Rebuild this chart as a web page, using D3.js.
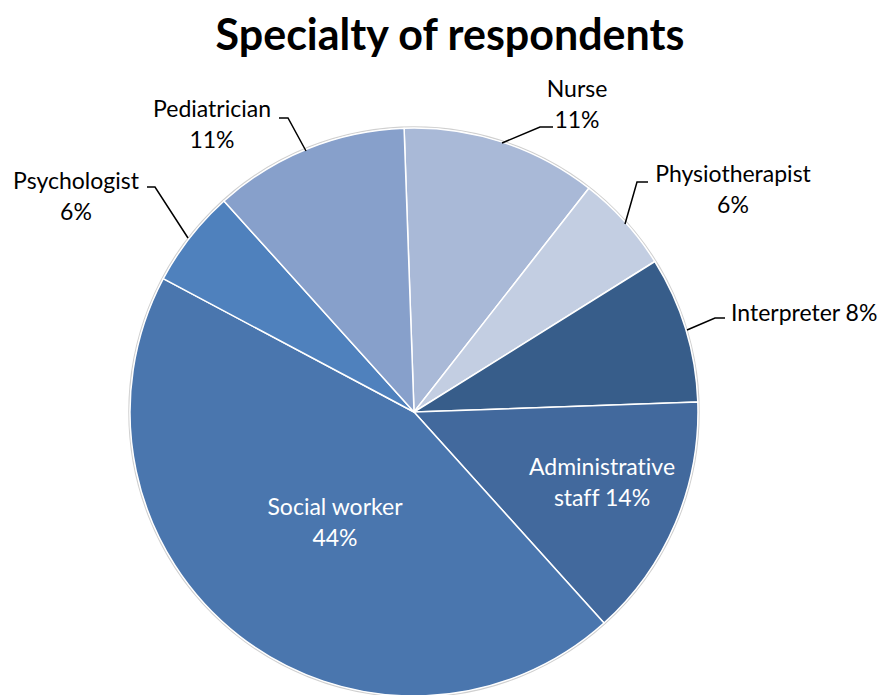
<!DOCTYPE html>
<html>
<head>
<meta charset="utf-8">
<script src="https://cdn.jsdelivr.net/npm/d3@7"></script>
<style>
  html, body { margin: 0; padding: 0; background: #fff; }
  svg { display: block; }
  text { font-family: Lato, "Open Sans", sans-serif; font-variant-ligatures: none; }
</style>
</head>
<body>
<svg id="chart" width="885" height="695"></svg>
<script>
// Respondent counts by specialty (clockwise from the top)
const specialties = ["Nurse", "Physiotherapist", "Interpreter", "Administrative staff", "Social worker", "Psychologist", "Pediatrician"];
const counts = [4, 2, 3, 5, 16, 2, 4];
const sliceColors = ["#a9b9d7", "#c3cee2", "#375d8a", "#42699d", "#4a76ae", "#4f81bd", "#87a0cb"];

// Label placement per slice: anchor point, line breaks, text colour, leader line
const labelSpecs = [
  { x: 577, y: 97, lines: ["Nurse", "{p}"], fill: "#000", leader: [[553, 127], [540, 127], [502, 143]] },
  { x: 733, y: 182, lines: ["Physiotherapist", "{p}"], fill: "#000", leader: [[648, 182], [637, 182], [625, 224]] },
  { x: 731, y: 321, lines: ["Interpreter {p}"], fill: "#000", anchor: "start", leader: [[725, 318], [715, 318], [687, 330]] },
  { x: 602, y: 475, lines: ["Administrative", "staff {p}"], fill: "#fff" },
  { x: 335, y: 515, lines: ["Social worker", "{p}"], fill: "#fff" },
  { x: 76, y: 189, lines: ["Psychologist", "{p}"], fill: "#000", leader: [[147, 187], [155, 187], [188, 238]] },
  { x: 212, y: 117, lines: ["Pediatrician", "{p}"], fill: "#000", leader: [[279, 118], [288, 118], [306, 151]] }
];

const svg = d3.select("#chart");
const cx = 414, cy = 412, radius = 284;
const total = d3.sum(counts);
const pct = d => Math.round(d / total * 100) + "%";

// Title
svg.append("text")
  .attr("x", 450).attr("y", 50)
  .attr("text-anchor", "middle")
  .style("font-size", "43px").style("font-weight", "bold")
  .text("Specialty of respondents");

const offset = -2 * Math.PI / 180;
const pie = d3.pie().sort(null).value(d => d)
  .startAngle(offset).endAngle(2 * Math.PI + offset);
const arc = d3.arc().innerRadius(0).outerRadius(radius);

const g = svg.append("g").attr("transform", `translate(${cx},${cy})`);

// Faint rim around the pie
g.append("circle").attr("r", radius + 1)
  .attr("fill", "none").attr("stroke", "#d0d0d0").attr("stroke-width", 1.5);

g.selectAll("path.slice")
  .data(pie(counts))
  .join("path")
  .attr("class", "slice")
  .attr("d", arc)
  .attr("fill", (d, i) => sliceColors[i])
  .attr("stroke", "#fff")
  .attr("stroke-width", 1.5)
  .attr("stroke-linejoin", "round");

// Leader lines
const line = d3.line();
labelSpecs.forEach(s => {
  if (s.leader) {
    svg.append("path").attr("d", line(s.leader))
      .attr("fill", "none").attr("stroke", "#000").attr("stroke-width", 1.5);
  }
});

// Data labels
labelSpecs.forEach((s, i) => {
  const t = svg.append("text")
    .attr("x", s.x).attr("y", s.y)
    .attr("text-anchor", s.anchor || "middle")
    .attr("fill", s.fill)
    .style("font-size", "23px");
  s.lines.forEach((ln, k) => {
    t.append("tspan")
      .attr("x", s.x)
      .attr("dy", k === 0 ? 0 : 31)
      .text(ln.replace("{p}", pct(counts[i])));
  });
});
</script>
</body>
</html>
